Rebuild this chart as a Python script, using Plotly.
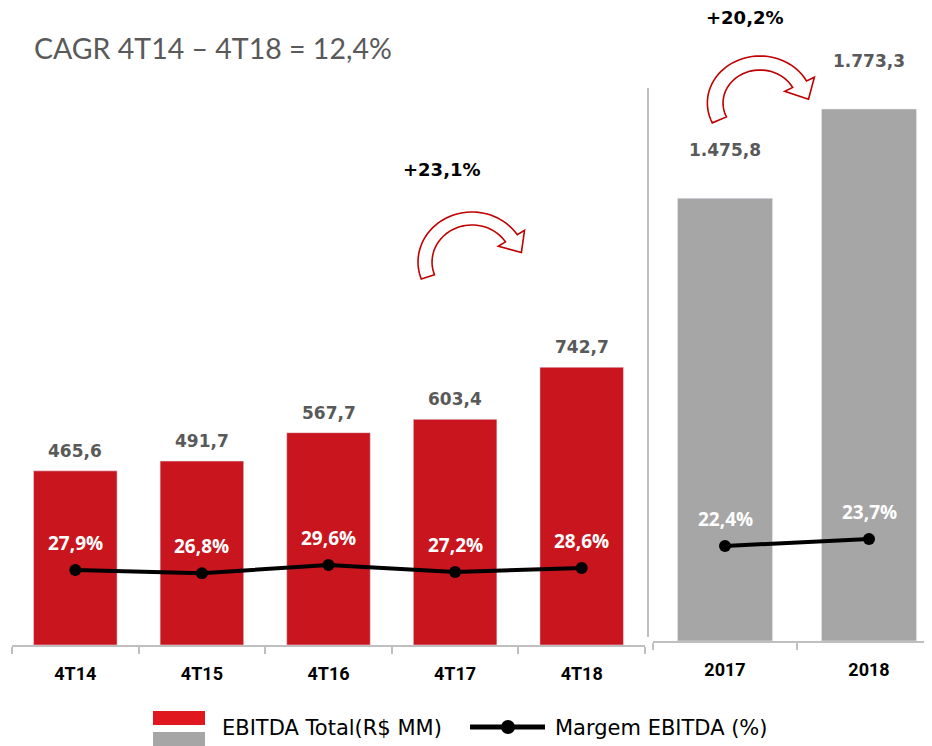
import math
import plotly.graph_objects as go

# ---------------- data ----------------
quarters = ["4T14", "4T15", "4T16", "4T17", "4T18"]
ebitda_q = [465.6, 491.7, 567.7, 603.4, 742.7]
margin_q = [27.9, 26.8, 29.6, 27.2, 28.6]

years = ["2017", "2018"]
ebitda_y = [1475.8, 1773.3]
margin_y = [22.4, 23.7]

title_text = "CAGR 4T14 – 4T18 = 12,4%"
growth_q = "+23,1%"
growth_y = "+20,2%"
legend_bar = "EBITDA Total(R$ MM)"
legend_line = "Margem EBITDA (%)"


def br(v, pct=False):
    s = f"{v:,.1f}".replace(",", "X").replace(".", ",").replace("X", ".")
    return s + ("%" if pct else "")


# ---------------- layout constants ----------------
PAGE_W, PAGE_H = 932, 746
OX, OY = 8, 8                      # default body margin of the html page
W, H = PAGE_W - OX, PAGE_H - OY
RED = "#C9151E"
GRAY = "#A6A6A6"
TXT = "#595959"
AXC = "#BFBFBF"


def px(x):
    return (x - OX) / W


def py(y):
    return 1 - (y - OY) / H


fig = go.Figure()

fig.add_trace(go.Bar(x=quarters, y=ebitda_q, marker_color=RED, xaxis="x", yaxis="y",
                     showlegend=False, name=legend_bar))
fig.add_trace(go.Scatter(x=quarters, y=margin_q, mode="lines+markers", xaxis="x", yaxis="y3",
                         line=dict(color="black", width=4), marker=dict(color="black", size=12),
                         showlegend=False, name=legend_line))
fig.add_trace(go.Bar(x=years, y=ebitda_y, marker_color=GRAY, xaxis="x2", yaxis="y2",
                     showlegend=False, name=legend_bar))
fig.add_trace(go.Scatter(x=years, y=margin_y, mode="lines+markers", xaxis="x2", yaxis="y4",
                         line=dict(color="black", width=4), marker=dict(color="black", size=12),
                         showlegend=False, name=legend_line))

# pixel geometry (page pixels)
L_BOT, L_TOP = 645, 100
R_BOT, R_TOP = 641, 60
L_SCALE = 0.374
R_SCALE = 0.300
Lm_scale, Lm_ref_v, Lm_ref_px = 3.0, 27.9, 570
Rm_scale, Rm_ref_v, Rm_ref_px = 5.4, 22.4, 546

l_range = [0, (L_BOT - L_TOP) / L_SCALE]
r_range = [0, (R_BOT - R_TOP) / R_SCALE]
lm_lo = Lm_ref_v + (Lm_ref_px - L_BOT) / Lm_scale
lm_range = [lm_lo, lm_lo + (L_BOT - L_TOP) / Lm_scale]
rm_lo = Rm_ref_v + (Rm_ref_px - R_BOT) / Rm_scale
rm_range = [rm_lo, rm_lo + (R_BOT - R_TOP) / Rm_scale]

cat_w_r = 144.0
r_x_end = (PAGE_W - 653) / cat_w_r - 0.5

hidden_y = dict(showgrid=False, zeroline=False, showticklabels=False, showline=False, ticks="")
tickfont = dict(family="Roboto", size=18, color="black", weight=700)

fig.update_layout(
    width=W, height=H,
    margin=dict(l=0, r=0, t=0, b=0),
    paper_bgcolor="white", plot_bgcolor="white",
    bargap=0.34,
    showlegend=False,
    xaxis=dict(domain=[px(12), px(645)], anchor="y", type="category", range=[-0.5, 4.5],
               showline=True, linecolor=AXC, linewidth=2, ticks="outside", tickson="boundaries",
               ticklen=7, tickcolor=AXC, tickwidth=2, tickfont=tickfont, ticklabelstandoff=11,
               showgrid=False),
    xaxis2=dict(domain=[px(653), 1], anchor="y2", type="category", range=[-0.5, r_x_end],
                showline=True, linecolor=AXC, linewidth=2, ticks="outside", tickson="boundaries",
                ticklen=7, tickcolor=AXC, tickwidth=2, tickfont=tickfont, ticklabelstandoff=11,
                showgrid=False),
    yaxis=dict(domain=[py(L_BOT), py(L_TOP)], range=l_range, anchor="x", **hidden_y),
    yaxis2=dict(domain=[py(R_BOT), py(R_TOP)], range=r_range, anchor="x2", **hidden_y),
    yaxis3=dict(domain=[py(L_BOT), py(L_TOP)], range=lm_range, anchor="x", overlaying="y", **hidden_y),
    yaxis4=dict(domain=[py(R_BOT), py(R_TOP)], range=rm_range, anchor="x2", overlaying="y2", **hidden_y),
)

annotations = []
valfont = dict(family="DejaVu Sans", size=17, color=TXT, weight=700)
pctfont = dict(family="Open Sans", size=19, color="white", weight=700)
for i, v in enumerate(ebitda_q):
    annotations.append(dict(x=i, y=v, xref="x", yref="y", text=br(v), showarrow=False,
                            yanchor="middle", yshift=20, font=valfont))
for i, v in enumerate(ebitda_y):
    annotations.append(dict(x=i, y=v, xref="x2", yref="y2", text=br(v), showarrow=False,
                            yanchor="middle", yshift=48, font=valfont))
for i, v in enumerate(margin_q):
    annotations.append(dict(x=i, y=v, xref="x", yref="y3", text=br(v, True), showarrow=False,
                            yanchor="middle", yshift=27, font=pctfont))
for i, v in enumerate(margin_y):
    annotations.append(dict(x=i, y=v, xref="x2", yref="y4", text=br(v, True), showarrow=False,
                            yanchor="middle", yshift=27, font=pctfont))

annotations.append(dict(x=px(32), y=py(48), xref="paper", yref="paper", text=title_text, showarrow=False,
                        xanchor="left", yanchor="middle", font=dict(family="Lato", size=28.5, color=TXT)))
annotations.append(dict(x=px(442), y=py(170), xref="paper", yref="paper", text=growth_q,
                        showarrow=False, xanchor="center", yanchor="middle",
                        font=dict(family="DejaVu Sans", size=18, color="black", weight=700)))
annotations.append(dict(x=px(745), y=py(18), xref="paper", yref="paper", text=growth_y,
                        showarrow=False, xanchor="center", yanchor="middle",
                        font=dict(family="DejaVu Sans", size=18, color="black", weight=700)))

annotations.append(dict(x=px(220), y=py(728), xref="paper", yref="paper", text=legend_bar, showarrow=False,
                        xanchor="left", yanchor="middle", font=dict(family="DejaVu Sans", size=21, color="black")))
annotations.append(dict(x=px(553), y=py(728), xref="paper", yref="paper", text=legend_line, showarrow=False,
                        xanchor="left", yanchor="middle", font=dict(family="DejaVu Sans", size=21, color="black")))

fig.update_layout(annotations=annotations)


def curved_arrow(cx, cy, R, r, th_s, th_e, sx=1.0, sy=1.0, head_out=8, head_len=17, n=40):
    def P(th, rho):
        t = math.radians(th)
        return (cx + rho * sx * math.cos(t), cy - rho * sy * math.sin(t))
    pts = []
    for i in range(n + 1):
        th = th_s + (th_e - th_s) * i / n
        pts.append(P(th, R))
    pts.append(P(th_e, R + head_out))
    mid = (R + r) / 2
    mx, my = P(th_e, mid)
    d = math.radians(th_e - 90)
    tip = (mx + head_len * math.cos(d) * sx, my - head_len * math.sin(d) * sy)
    pts.append(tip)
    pts.append(P(th_e, r - head_out))
    for i in range(n + 1):
        th = th_e + (th_s - th_e) * i / n
        pts.append(P(th, r))
    path = "M " + " L ".join(f"{px(x):.5f},{py(y):.5f}" for x, y in pts) + " Z"
    return dict(type="path", xref="paper", yref="paper", path=path,
                line=dict(color="#C00000", width=1.6), fillcolor="white", layer="above")


shapes = [
    dict(type="line", xref="paper", yref="paper", x0=px(648), x1=px(648), y0=py(88), y1=py(637),
         line=dict(color=AXC, width=2)),
    curved_arrow(472, 262, 50, 37, 200, 33, sx=1.08),
    curved_arrow(760, 103, 47, 33, 205, 28, sx=1.12),
    dict(type="rect", xref="paper", yref="paper", x0=px(153), x1=px(205), y0=py(725), y1=py(711),
         fillcolor="#E0171F", line=dict(width=0)),
    dict(type="rect", xref="paper", yref="paper", x0=px(153), x1=px(205), y0=py(746), y1=py(732),
         fillcolor=GRAY, line=dict(width=0)),
    dict(type="line", xref="paper", yref="paper", x0=px(470), x1=px(545), y0=py(727), y1=py(727),
         line=dict(color="black", width=5)),
    dict(type="circle", xref="paper", yref="paper", x0=px(501), x1=px(515), y0=py(734), y1=py(720),
         fillcolor="black", line=dict(width=0)),
]
fig.update_layout(shapes=shapes)

fig.write_html("out.html")
